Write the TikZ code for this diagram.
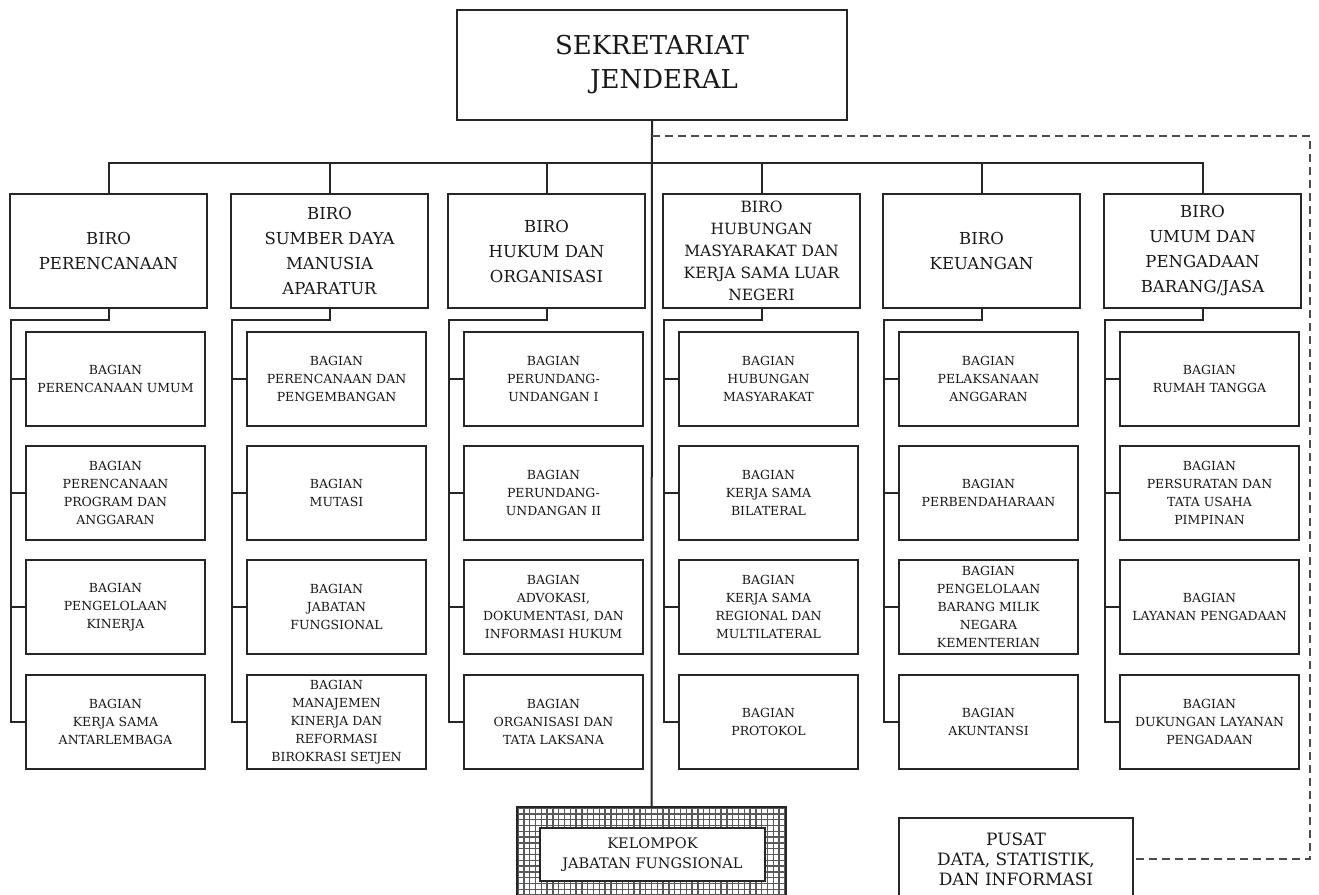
\documentclass[tikz,border=0pt]{standalone}
\usepackage{fontspec}
\setmainfont{DejaVu Serif}
\begin{document}
\begin{tikzpicture}[x=1pt,y=-1pt,
  box/.style={draw=black!85,line width=2pt,inner sep=0pt,align=center,fill=white,text=black!90},
  topbox/.style={box,minimum width=390pt,minimum height=110pt,font=\fontsize{26}{34}\selectfont},
  birobox/.style={box,minimum width=197pt,minimum height=114pt,font=\fontsize{16.5}{25}\selectfont},
  childbox/.style={box,minimum width=179pt,minimum height=94pt,font=\fontsize{12.5}{18}\selectfont},
  conn/.style={draw=black!85,line width=2pt},
  dashconn/.style={draw=black!70,line width=1.8pt,dash pattern=on 8pt off 5pt}
]
\useasboundingbox[fill=white] (0,0) rectangle (1319,894);

% top
\node[topbox] (sj) at (652,65) {SEKRETARIAT\\\hspace*{24pt}JENDERAL};

% biro boxes
\node[birobox] (b1) at (108.5,251) {BIRO\\PERENCANAAN};
\node[birobox] (b2) at (329.5,251) {BIRO\\SUMBER DAYA\\MANUSIA\\APARATUR};
\node[birobox] (b3) at (546.5,251) {BIRO\\HUKUM DAN\\ORGANISASI};
\node[birobox,font=\fontsize{15.5}{22}\selectfont] (b4) at (761.5,251) {BIRO\\HUBUNGAN\\MASYARAKAT DAN\\KERJA SAMA LUAR\\NEGERI};
\node[birobox] (b5) at (981.5,251) {BIRO\\KEUANGAN};
\node[birobox] (b6) at (1202.5,251) {BIRO\\UMUM DAN\\PENGADAAN\\BARANG/JASA};

% children column 1
\node[childbox] (c11) at (115.5,379) {BAGIAN\\PERENCANAAN UMUM};
\node[childbox] (c12) at (115.5,493) {BAGIAN\\PERENCANAAN\\PROGRAM DAN\\ANGGARAN};
\node[childbox] (c13) at (115.5,607) {BAGIAN\\PENGELOLAAN\\KINERJA};
\node[childbox] (c14) at (115.5,722) {BAGIAN\\KERJA SAMA\\ANTARLEMBAGA};
% column 2
\node[childbox] (c21) at (336.5,379) {BAGIAN\\PERENCANAAN DAN\\PENGEMBANGAN};
\node[childbox] (c22) at (336.5,493) {BAGIAN\\MUTASI};
\node[childbox] (c23) at (336.5,607) {BAGIAN\\JABATAN\\FUNGSIONAL};
\node[childbox] (c24) at (336.5,722) {BAGIAN\\MANAJEMEN\\KINERJA DAN\\REFORMASI\\BIROKRASI SETJEN};
% column 3
\node[childbox] (c31) at (553.5,379) {BAGIAN\\PERUNDANG-\\UNDANGAN I};
\node[childbox] (c32) at (553.5,493) {BAGIAN\\PERUNDANG-\\UNDANGAN II};
\node[childbox] (c33) at (553.5,607) {BAGIAN\\ADVOKASI,\\DOKUMENTASI, DAN\\INFORMASI HUKUM};
\node[childbox] (c34) at (553.5,722) {BAGIAN\\ORGANISASI DAN\\TATA LAKSANA};
% column 4
\node[childbox] (c41) at (768.5,379) {BAGIAN\\HUBUNGAN\\MASYARAKAT};
\node[childbox] (c42) at (768.5,493) {BAGIAN\\KERJA SAMA\\BILATERAL};
\node[childbox] (c43) at (768.5,607) {BAGIAN\\KERJA SAMA\\REGIONAL DAN\\MULTILATERAL};
\node[childbox] (c44) at (768.5,722) {BAGIAN\\PROTOKOL};
% column 5
\node[childbox] (c51) at (988.5,379) {BAGIAN\\PELAKSANAAN\\ANGGARAN};
\node[childbox] (c52) at (988.5,493) {BAGIAN\\PERBENDAHARAAN};
\node[childbox] (c53) at (988.5,607) {BAGIAN\\PENGELOLAAN\\BARANG MILIK\\NEGARA\\KEMENTERIAN};
\node[childbox] (c54) at (988.5,722) {BAGIAN\\AKUNTANSI};
% column 6
\node[childbox] (c61) at (1209.5,379) {BAGIAN\\RUMAH TANGGA};
\node[childbox] (c62) at (1209.5,493) {BAGIAN\\PERSURATAN DAN\\TATA USAHA\\PIMPINAN};
\node[childbox] (c63) at (1209.5,607) {BAGIAN\\LAYANAN PENGADAAN};
\node[childbox] (c64) at (1209.5,722) {BAGIAN\\DUKUNGAN LAYANAN\\PENGADAAN};

% kelompok jabatan fungsional (hatched frame)
\node[draw=black!85,line width=2pt,minimum width=267pt,minimum height=93pt,inner sep=0pt,fill=white] (kelo) at (651.5,854.5) {};
\begin{scope}
  \clip (kelo.north west) rectangle (kelo.south east);
  \foreach \i in {0,...,46} \draw[black!65,line width=1.4pt] (518+\i*5.8,805) -- (518+\i*5.8,905);
  \foreach \j in {0,...,17} \draw[black!65,line width=1.4pt] (515,808+\j*5.8) -- (790,808+\j*5.8);
\end{scope}
\draw[black!85,line width=2pt] (kelo.north west) rectangle (kelo.south east);
\node[box,minimum width=225pt,minimum height=53pt,font=\fontsize{14.5}{20}\selectfont] (kel) at (652.5,854.5) {KELOMPOK\\JABATAN FUNGSIONAL};

% pusat
\node[box,minimum width=234pt,minimum height=82pt,font=\fontsize{17}{20}\selectfont] (pusat) at (1016,859) {PUSAT\\DATA, STATISTIK,\\DAN INFORMASI};

% connectors
\coordinate (bus) at (652,163);
\draw[conn] (sj.south) -- (kelo.north);
\draw[conn] (b1.north) |- (bus) -| (b6.north);
\foreach \b in {b2,b3,b4,b5} \draw[conn] (\b.north) -- (\b.north |- bus);

\foreach \c/\x in {1/11,2/232,3/449,4/664,5/884,6/1105} {
  \coordinate (v\c) at (\x,320);
  \draw[conn] (b\c.south) |- (v\c) -- (v\c |- c\c4.west) -- (c\c4.west);
  \foreach \r in {1,2,3} \draw[conn] (v\c |- c\c\r.west) -- (c\c\r.west);
}

% dashed line to pusat
\coordinate (d0) at (652,136);
\coordinate (dc) at (1310,136);
\draw[dashconn] (d0) -- (dc) |- (pusat.east);
\end{tikzpicture}
\end{document}
